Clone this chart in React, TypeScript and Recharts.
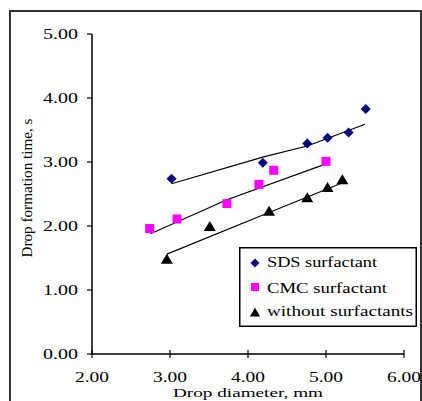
import { ScatterChart, Scatter, XAxis, YAxis } from "recharts";

const xTicks = [2, 3, 4, 5, 6];
const yTicks = [0, 1, 2, 3, 4, 5];

const sdsData = [
  { x: 3.02, y: 2.74 },
  { x: 4.19, y: 2.99 },
  { x: 4.76, y: 3.29 },
  { x: 5.02, y: 3.38 },
  { x: 5.29, y: 3.46 },
  { x: 5.51, y: 3.83 },
];
const cmcData = [
  { x: 2.74, y: 1.96 },
  { x: 3.09, y: 2.11 },
  { x: 3.73, y: 2.35 },
  { x: 4.14, y: 2.65 },
  { x: 4.33, y: 2.87 },
  { x: 5.0, y: 3.01 },
];
const noSurfData = [
  { x: 2.96, y: 1.49 },
  { x: 3.51, y: 2.0 },
  { x: 4.27, y: 2.24 },
  { x: 4.76, y: 2.45 },
  { x: 5.02, y: 2.61 },
  { x: 5.21, y: 2.73 },
];

// trend lines
const sdsTrend = [
  { x: 3.02, y: 2.66 },
  { x: 4.2, y: 3.08 },
  { x: 4.76, y: 3.25 },
  { x: 5.5, y: 3.59 },
];
const cmcTrend = [
  { x: 2.75, y: 1.88 },
  { x: 3.73, y: 2.41 },
  { x: 5.0, y: 2.97 },
];
const noSurfTrend = [
  { x: 2.96, y: 1.56 },
  { x: 4.27, y: 2.21 },
  { x: 5.22, y: 2.68 },
];

const legendNames = ["SDS surfactant", "CMC surfactant", "without surfactants"];
const legendWidths = [110, 120, 146];

const FONT = "'Liberation Serif', 'Times New Roman', serif";

const Diamond = ({ cx, cy, r = 5 }: any) => (
  <path
    d={`M${cx},${cy - r}L${cx + r},${cy}L${cx},${cy + r}L${cx - r},${cy}Z`}
    fill="#000080"
  />
);
const Square = ({ cx, cy, s = 9 }: any) => (
  <rect x={cx - s / 2} y={cy - s / 2} width={s} height={s} fill="#ff00ff" />
);
const Triangle = ({ cx, cy, w = 12, h = 10 }: any) => (
  <path
    d={`M${cx},${cy - h / 2}L${cx + w / 2},${cy + h / 2}L${cx - w / 2},${cy + h / 2}Z`}
    fill="#000"
  />
);
const NoShape = () => <g />;

const XTick = ({ x, y, payload }: any) => (
  <g>
    <line x1={x} x2={x} y1={y - 4} y2={y + 4} stroke="#000" strokeWidth={1.2} />
    <text
      x={x}
      y={y + 28}
      textAnchor="middle"
      fontSize={14}
      fontFamily={FONT}
      fill="#000"
      textLength={34}
      lengthAdjust="spacingAndGlyphs"
    >
      {payload.value.toFixed(2)}
    </text>
  </g>
);

const YTick = ({ x, y, payload }: any) => (
  <text
    x={x}
    y={y}
    dy="0.35em"
    textAnchor="end"
    fontSize={14}
    fontFamily={FONT}
    fill="#000"
    textLength={35}
    lengthAdjust="spacingAndGlyphs"
  >
    {payload.value.toFixed(2)}
  </text>
);

const LegendBox = () => {
  const markers = [
    <Diamond cx={16} cy={16} r={4.5} />,
    <Square cx={16} cy={40} s={8} />,
    <Triangle cx={16} cy={65} w={10} h={9} />,
  ];
  const baselines = [20, 46, 69];
  return (
    <svg
      width={178}
      height={80}
      style={{ position: "absolute", left: 239, top: 247, display: "block" }}
    >
      <rect x={0.75} y={0.75} width={176.5} height={78.5} fill="#fff" stroke="#000" strokeWidth={1.5} />
      {legendNames.map((name, i) => (
        <g key={name}>
          {markers[i]}
          <text
            x={28}
            y={baselines[i]}
            fontSize={15}
            fontFamily={FONT}
            fill="#000"
            textLength={legendWidths[i]}
            lengthAdjust="spacingAndGlyphs"
          >
            {name}
          </text>
        </g>
      ))}
    </svg>
  );
};

export default function App() {
  return (
    <div style={{ position: "absolute", left: 0, top: 0, width: 422, height: 401, background: "#fff", overflow: "hidden" }}>
      <div
        style={{
          position: "absolute",
          left: 9,
          top: 10,
          width: 409,
          height: 420,
          border: "2px solid #333",
        }}
      />
      <ScatterChart
        width={422}
        height={401}
        margin={{ top: 34, right: 18, left: 0, bottom: 0 }}
        style={{ position: "absolute", left: 0, top: 0 }}
      >
        <XAxis
          type="number"
          dataKey="x"
          domain={[2, 6]}
          ticks={xTicks}
          interval={0}
          height={47}
          tickSize={0}
          tickMargin={0}
          tickLine={false}
          axisLine={{ stroke: "#000", strokeWidth: 1.5 }}
          tick={<XTick />}
          allowDataOverflow
          label={{
            content: () => (
              <text
                x={248}
                y={397}
                textAnchor="middle"
                fontSize={13}
                fontFamily={FONT}
                fill="#000"
                textLength={150}
                lengthAdjust="spacingAndGlyphs"
              >
                Drop diameter, mm
              </text>
            ),
          }}
        />
        <YAxis
          type="number"
          dataKey="y"
          domain={[0, 5]}
          ticks={yTicks}
          interval={0}
          width={92}
          tickSize={5}
          tickMargin={9}
          tickLine={{ stroke: "#000", strokeWidth: 1.2 }}
          axisLine={{ stroke: "#000", strokeWidth: 1.5 }}
          tick={<YTick />}
          allowDataOverflow
          label={{
            content: () => (
              <text
                x={27}
                y={188}
                dy="0.35em"
                transform="rotate(-90 27 188)"
                textAnchor="middle"
                fontSize={15}
                fontFamily={FONT}
                fill="#000"
                textLength={139}
                lengthAdjust="spacingAndGlyphs"
              >
                Drop formation time, s
              </text>
            ),
          }}
        />
        <Scatter data={sdsTrend} line={{ stroke: "#000", strokeWidth: 1.2 }} shape={NoShape} isAnimationActive={false} legendType="none" />
        <Scatter data={cmcTrend} line={{ stroke: "#000", strokeWidth: 1.2 }} shape={NoShape} isAnimationActive={false} legendType="none" />
        <Scatter data={noSurfTrend} line={{ stroke: "#000", strokeWidth: 1.2 }} shape={NoShape} isAnimationActive={false} legendType="none" />
        <Scatter name="SDS surfactant" data={sdsData} shape={(p: any) => <Diamond cx={p.cx} cy={p.cy} />} isAnimationActive={false} />
        <Scatter name="CMC surfactant" data={cmcData} shape={(p: any) => <Square cx={p.cx} cy={p.cy} />} isAnimationActive={false} />
        <Scatter name="without surfactants" data={noSurfData} shape={(p: any) => <Triangle cx={p.cx} cy={p.cy} />} isAnimationActive={false} />
      </ScatterChart>
      <LegendBox />
    </div>
  );
}
